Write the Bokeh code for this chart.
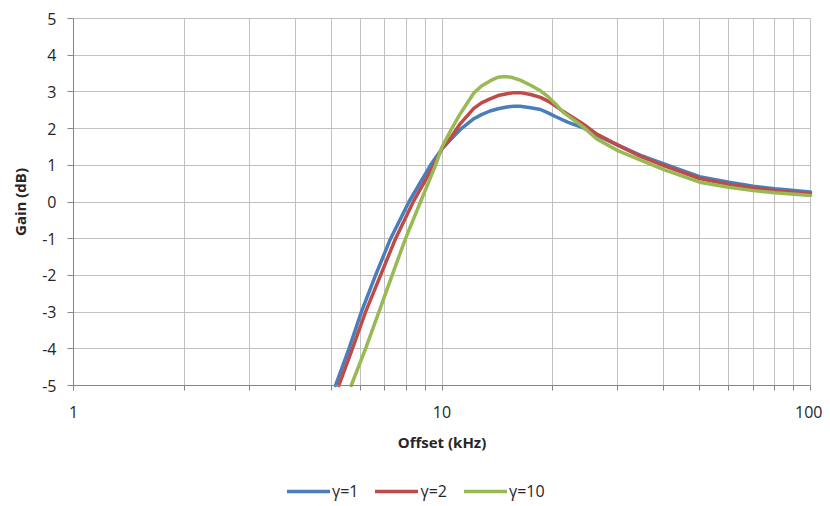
import math
from bokeh.plotting import figure
from bokeh.models import FixedTicker, Legend, LegendItem, Range1d
from bokeh.embed import file_html
from bokeh.resources import INLINE

# ---- data ----
x_g1 = [5.14, 5.59, 6.04, 6.60, 7.25, 8.13, 9.30, 10.0, 10.6, 11.2, 12.2, 12.8, 13.5, 14.2,
        15.0, 15.7, 16.3, 17.4, 18.5, 19.4, 20.3, 22.0, 24.2, 26.3, 30.0, 34.6, 40.0, 50.0,
        60.0, 70.0, 80.0, 100.0]
y_g1 = [-5.0, -4.0, -3.0, -2.0, -1.0, 0.0, 1.0, 1.45, 1.72, 1.97, 2.27, 2.38, 2.48, 2.54,
        2.59, 2.61, 2.61, 2.57, 2.52, 2.43, 2.33, 2.17, 2.02, 1.82, 1.55, 1.27, 1.04, 0.69,
        0.54, 0.43, 0.36, 0.27]

x_g2 = [5.25, 5.71, 6.20, 6.81, 7.48, 8.35, 9.50, 10.0, 10.6, 11.2, 12.2, 12.8, 13.5, 14.2,
        15.0, 15.7, 16.3, 17.4, 18.5, 19.4, 20.3, 21.3, 24.2, 26.3, 30.0, 34.6, 40.0, 50.0,
        60.0, 70.0, 80.0, 100.0]
y_g2 = [-5.0, -4.0, -3.0, -2.0, -1.0, 0.0, 1.0, 1.45, 1.77, 2.13, 2.55, 2.70, 2.81, 2.90,
        2.95, 2.98, 2.98, 2.93, 2.85, 2.75, 2.62, 2.47, 2.12, 1.85, 1.55, 1.24, 0.99, 0.64,
        0.48, 0.38, 0.31, 0.22]

x_g10 = [5.67, 6.20, 6.74, 7.32, 7.96, 8.74, 9.60, 10.0, 10.6, 11.2, 12.2, 12.8, 13.5, 14.1,
         14.7, 15.4, 16.3, 17.4, 18.5, 19.4, 20.3, 21.3, 24.2, 26.3, 30.0, 34.6, 40.0, 50.0,
         60.0, 70.0, 80.0, 100.0]
y_g10 = [-5.0, -4.0, -3.0, -2.0, -1.0, 0.0, 1.0, 1.50, 1.98, 2.40, 2.97, 3.16, 3.30, 3.39,
         3.42, 3.40, 3.32, 3.18, 3.03, 2.87, 2.68, 2.45, 2.04, 1.72, 1.40, 1.14, 0.88, 0.54,
         0.40, 0.31, 0.25, 0.18]

series_labels = ["γ=1", "γ=2", "γ=10"]
series_colors = ["#4A7EBB", "#BE4B48", "#98B954"]

x_major = [1, 10, 100]
x_minor = [2, 3, 4, 5, 6, 7, 8, 9, 20, 30, 40, 50, 60, 70, 80, 90]
y_ticks = [-5, -4, -3, -2, -1, 0, 1, 2, 3, 4, 5]
x_min, x_max = 1, 100
y_min, y_max = -5, 5

FONT = "Open Sans"
GRID = "#C0C0C0"
AXIS = "#868686"

# layout geometry (pixels): plot band 73..810 horizontally, 18..385 vertically
W, H = 822, 504
BAND_LEFT, BAND_RIGHT, BAND_TOP = 73, 810, 18
PX_PER_UNIT = 36.7
px_per_dec = (BAND_RIGHT - BAND_LEFT) / (math.log10(x_max) - math.log10(x_min))
view_left = 10 ** (math.log10(x_min) - BAND_LEFT / px_per_dec)
view_right = 10 ** (math.log10(x_max) + (W - BAND_RIGHT) / px_per_dec)
view_top = y_max + BAND_TOP / PX_PER_UNIT
view_bottom = y_max - (H - BAND_TOP) / PX_PER_UNIT

p = figure(width=W, height=H, x_axis_type="log",
           x_range=Range1d(view_left, view_right), y_range=Range1d(view_bottom, view_top),
           output_backend="svg", toolbar_location=None,
           min_border_left=0, min_border_right=0,
           min_border_top=0, min_border_bottom=0)
p.outline_line_color = None
p.background_fill_color = "white"
p.border_fill_color = "white"

# axes (drawn inside the frame at fixed data positions)
p.xaxis.ticker = FixedTicker(ticks=x_major, minor_ticks=x_minor)
p.xaxis.major_label_overrides = {t: str(t) for t in x_major}
p.xaxis.fixed_location = y_min
p.xaxis.bounds = (x_min, x_max)
p.yaxis.ticker = FixedTicker(ticks=y_ticks)
p.yaxis.major_label_overrides = {t: str(t) for t in y_ticks}
p.yaxis.fixed_location = x_min
p.yaxis.bounds = (y_min, y_max)

for ax in (p.xaxis[0], p.yaxis[0]):
    ax.axis_line_color = AXIS
    ax.axis_line_width = 1
    ax.major_tick_line_color = AXIS
    ax.major_tick_in = 0
    ax.major_label_text_font = FONT
    ax.major_label_text_font_size = "16px"
    ax.major_label_text_color = "#262626"
    ax.axis_label_text_font = FONT
    ax.axis_label_text_font_size = "15px"
    ax.axis_label_text_font_style = "bold"
    ax.axis_label_text_color = "#262626"

p.xaxis.major_tick_out = 5
p.xaxis.minor_tick_out = 5
p.xaxis.minor_tick_in = 0
p.xaxis.minor_tick_line_color = AXIS
p.xaxis.major_label_standoff = 15
p.xaxis.axis_label = "Offset (kHz)"
p.xaxis.axis_label_standoff = 11

p.yaxis.major_tick_out = 6
p.yaxis.minor_tick_line_color = None
p.yaxis.major_label_standoff = 11
p.yaxis.axis_label = "Gain (dB)"
p.yaxis.axis_label_standoff = 9

# grids limited to the data band
xg = p.xgrid[0]
yg = p.ygrid[0]
try:
    xg.cross_bounds = (y_min, y_max)
    yg.cross_bounds = (x_min, x_max)
    for g in (xg, yg):
        g.grid_line_color = GRID
        g.grid_line_width = 1
    xg.minor_grid_line_color = GRID
except Exception:
    xg.grid_line_color = None
    yg.grid_line_color = None
    xs_all = sorted(x_major + x_minor)
    p.segment(x0=xs_all, y0=[y_min] * len(xs_all), x1=xs_all, y1=[y_max] * len(xs_all),
              line_color=GRID, line_width=1, level="underlay")
    p.segment(x0=[x_min] * len(y_ticks), y0=y_ticks, x1=[x_max] * len(y_ticks), y1=y_ticks,
              line_color=GRID, line_width=1, level="underlay")

# curves
renderers = []
for xs, ys, c in zip([x_g1, x_g2, x_g10], [y_g1, y_g2, y_g10], series_colors):
    r = p.line(xs, ys, line_color=c, line_width=3.5, line_join="round", line_cap="round")
    renderers.append(r)

items = [LegendItem(label=lab, renderers=[r]) for lab, r in zip(series_labels, renderers)]
legend = Legend(items=items, location=(287, 2), orientation="horizontal",
                glyph_width=43, glyph_height=20, label_standoff=2, spacing=17,
                padding=0, margin=0, border_line_color=None,
                background_fill_alpha=0,
                label_text_font=FONT, label_text_font_size="16px",
                label_text_color="#262626")
p.add_layout(legend)

open("out.html", "w").write(file_html(p, INLINE))
